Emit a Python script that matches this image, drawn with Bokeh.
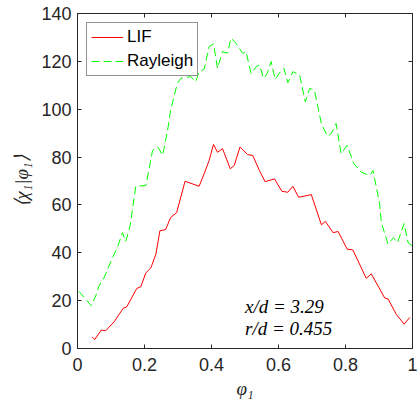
from bokeh.plotting import figure
from bokeh.models import LinearAxis, Range1d, FixedTicker, Label, Legend, LegendItem
from bokeh.embed import file_html
from bokeh.resources import INLINE

# LIF curve
lif_x = [0.044, 0.052, 0.071, 0.084, 0.109, 0.137, 0.147, 0.177, 0.189, 0.204, 0.219, 0.234,
         0.246, 0.263, 0.278, 0.296, 0.321, 0.363, 0.378, 0.393, 0.406, 0.418, 0.433, 0.456,
         0.468, 0.485, 0.508, 0.523, 0.543, 0.560, 0.588, 0.610, 0.628, 0.643, 0.660, 0.698,
         0.728, 0.740, 0.763, 0.778, 0.805, 0.822, 0.862, 0.877, 0.917, 0.927, 0.952, 0.975, 0.992]
lif_y = [4.7, 3.8, 7.7, 7.4, 11.1, 16.9, 17.4, 25.1, 25.8, 31.6, 33.7, 39.4,
         49.2, 49.7, 54.7, 56.8, 69.9, 67.8, 73.0, 78.6, 85.3, 82.0, 83.5, 75.1,
         76.5, 84.2, 81.0, 80.7, 74.4, 69.7, 70.9, 65.7, 65.3, 67.8, 63.2, 64.3,
         51.7, 53.1, 48.4, 48.9, 41.5, 41.2, 29.3, 31.2, 21.1, 20.7, 14.2, 10.2, 13.0]

# Rayleigh curve
ray_x = [0.004, 0.041, 0.054, 0.064, 0.079, 0.104, 0.119, 0.134, 0.144, 0.157, 0.174, 0.204,
         0.211, 0.224, 0.240, 0.254, 0.269, 0.278, 0.298, 0.308, 0.338, 0.353, 0.363, 0.378,
         0.393, 0.406, 0.418, 0.433, 0.448, 0.458, 0.473, 0.493, 0.503, 0.518, 0.533, 0.543,
         0.556, 0.566, 0.578, 0.590, 0.606, 0.616, 0.628, 0.643, 0.663, 0.680, 0.693, 0.707,
         0.728, 0.746, 0.757, 0.772, 0.787, 0.805, 0.825, 0.847, 0.872, 0.882, 0.902, 0.907,
         0.927, 0.943, 0.955, 0.975, 0.987, 1.0]
ray_y = [23.9, 17.9, 21.8, 26.1, 29.5, 37.9, 42.1, 48.4, 44.7, 51.3, 67.8, 68.1,
         73.0, 82.8, 84.2, 80.7, 91.2, 99.6, 110.8, 112.9, 113.6, 111.5, 115.7, 116.7,
         126.2, 127.3, 117.1, 124.1, 123.4, 129.7, 127.6, 123.4, 124.1, 114.9, 117.7, 118.5,
         112.9, 114.9, 119.9, 112.5, 115.7, 117.1, 111.1, 115.7, 114.3, 103.1, 108.7, 108.0,
         94.0, 88.7, 89.8, 94.0, 81.4, 84.9, 77.2, 73.7, 72.3, 74.4, 60.4, 52.6,
         43.6, 46.3, 44.2, 52.2, 44.2, 42.9]

x_ticks = [0, 0.2, 0.4, 0.6, 0.8, 1]
x_tick_labels = {0: "0", 0.2: "0.2", 0.4: "0.4", 0.6: "0.6", 0.8: "0.8", 1: "1"}
y_ticks = [0, 20, 40, 60, 80, 100, 120, 140]

AX = "#262626"

p = figure(width=420, height=404, output_backend="svg", toolbar_location=None,
           x_range=Range1d(0, 1), y_range=Range1d(0, 140),
           min_border_left=77, min_border_right=8, min_border_top=13, min_border_bottom=56,
           x_axis_location=None, y_axis_location=None)
p.background_fill_color = "white"
p.border_fill_color = "white"
p.outline_line_color = AX
p.grid.visible = False

def style_axis(ax, labels=True, standoff=6):
    ax.axis_line_color = AX
    ax.major_tick_line_color = AX
    ax.major_tick_in = 4
    ax.major_tick_out = 0
    ax.minor_tick_line_color = None
    ax.major_label_text_color = AX
    ax.major_label_text_font = "Liberation Sans"
    ax.major_label_text_font_size = "18px"
    ax.major_label_standoff = standoff if labels else 0
    ax.axis_label_text_color = AX
    ax.axis_label_text_font = "Liberation Serif"
    ax.axis_label_text_font_style = "italic"
    ax.axis_label_text_font_size = "19px"

xb = LinearAxis(ticker=FixedTicker(ticks=x_ticks), major_label_overrides=x_tick_labels,
                axis_label="φ₁")
style_axis(xb, True, 9)
xb.axis_label_standoff = 4
p.add_layout(xb, "below")

xt = LinearAxis(ticker=FixedTicker(ticks=x_ticks),
                major_label_overrides={t: "" for t in x_ticks})
style_axis(xt, False)
p.add_layout(xt, "above")

yl = LinearAxis(ticker=FixedTicker(ticks=y_ticks), axis_label="⟨χ₁|φ₁⟩")
style_axis(yl, True, 6)
yl.axis_label_standoff = 6
p.add_layout(yl, "left")

yr = LinearAxis(ticker=FixedTicker(ticks=y_ticks),
                major_label_overrides={t: "" for t in y_ticks})
style_axis(yr, False)
p.add_layout(yr, "right")

r1 = p.line(lif_x, lif_y, line_color="#FF0000", line_width=1.0)
r2 = p.line(ray_x, ray_y, line_color="#00FF00", line_width=1.0, line_dash="8 4")

legend = Legend(items=[LegendItem(label="LIF", renderers=[r1]),
                       LegendItem(label="Rayleigh", renderers=[r2])])
legend.location = "top_left"
legend.margin = 9
legend.padding = 4
legend.spacing = 4
legend.glyph_width = 32
legend.glyph_height = 18
legend.label_height = 18
legend.label_standoff = 4
legend.label_text_font = "Liberation Sans"
legend.label_text_font_size = "17px"
legend.label_text_color = "black"
legend.border_line_color = AX
legend.border_line_width = 1
legend.background_fill_color = "white"
legend.background_fill_alpha = 1
p.add_layout(legend)

for txt, yv in [("x/d = 3.29", 13.3), ("r/d = 0.455", 4.0)]:
    p.add_layout(Label(x=0.5, y=yv, text=txt, text_font="Liberation Serif",
                       text_font_style="italic", text_font_size="19px", text_color="black",
                       text_baseline="bottom"))

open("out.html", "w").write(file_html(p, INLINE))
